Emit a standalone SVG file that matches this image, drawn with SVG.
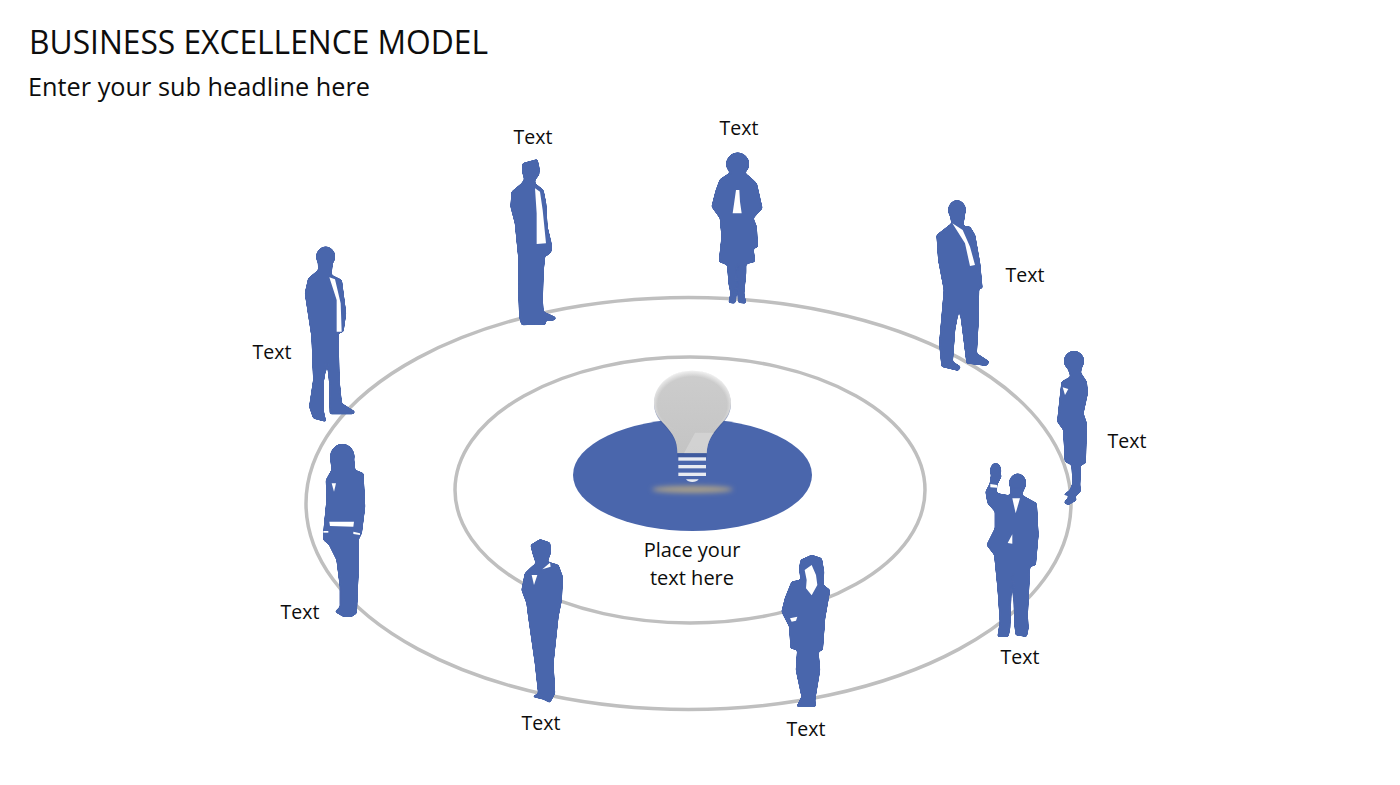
<svg xmlns="http://www.w3.org/2000/svg" width="1400" height="785" viewBox="0 0 1400 785">
<style>
text{font-family:"Open Sans","Noto Sans","Liberation Sans",sans-serif;fill:#0d0d0d}
.t{font-size:19.5px;text-anchor:middle}
.h{font-size:20px;text-anchor:middle}
.ring{fill:none;stroke:#bfbfbf;stroke-width:3.5}
.p{fill:#4a66ac;stroke:#4a66ac;stroke-width:3;stroke-linejoin:round}
.c{fill:#fff}
.s{filter:url(#goo)}
</style>
<defs>
<radialGradient id="rim" cx=".5" cy=".55" r=".56">
<stop offset="0" stop-color="#fff" stop-opacity="0"/><stop offset=".8" stop-color="#fff" stop-opacity="0"/><stop offset="1" stop-color="#fff" stop-opacity=".85"/>
</radialGradient>
<linearGradient id="glass" x1="0" y1="0" x2="0" y2="1"><stop offset="0" stop-color="#cdcdcd"/><stop offset="1" stop-color="#c4c4c4"/></linearGradient>
<filter id="blur" x="-30%" y="-150%" width="160%" height="400%"><feGaussianBlur stdDeviation="8"/></filter>
<filter id="soft" x="-10%" y="-10%" width="120%" height="120%"><feGaussianBlur stdDeviation="2"/></filter>
<filter id="goo" x="-20%" y="-20%" width="140%" height="140%">
<feGaussianBlur stdDeviation="3.5"/>
<feComponentTransfer><feFuncA type="linear" slope="7" intercept="-3"/></feComponentTransfer>
</filter>
</defs>
<rect width="1400" height="785" fill="#fff"/>
<text x="29" y="54" font-size="33" textLength="459" lengthAdjust="spacingAndGlyphs">BUSINESS EXCELLENCE MODEL</text>
<text x="28" y="96" font-size="25" textLength="342" lengthAdjust="spacingAndGlyphs">Enter your sub headline here</text>
<g id="connectors">
<ellipse class="ring" cx="688.5" cy="503.5" rx="382.5" ry="206"/>
<ellipse class="ring" cx="690" cy="490" rx="235" ry="133"/>
</g>
<g id="hub">
<ellipse cx="692.5" cy="475" rx="119.5" ry="56" fill="#4a66ac"/>
<g transform="translate(560 360) scale(.33333)">
<ellipse cx="397" cy="388" rx="122" ry="11" fill="#a89f8a" filter="url(#blur)"/>
<path d="M352,280C352,240 340,225 315,195C290,170 282,150 282,125C285,70 335,32 397,32C460,32 510,70 513,125C513,150 505,170 480,195C455,225 442,240 440,280Z" fill="#3b5290" opacity=".5" filter="url(#soft)" transform="translate(0 4)"/>
<path d="M352,280C352,240 340,225 315,195C290,170 282,150 282,125C285,70 335,32 397,32C460,32 510,70 513,125C513,150 505,170 480,195C455,225 442,240 440,280Z" fill="url(#glass)"/>
<ellipse cx="397" cy="125" rx="116" ry="94" fill="url(#rim)"/>
<path d="M405,218L462,218C450,235 442,250 440,280L372,280Z" fill="#d9d9d9" opacity=".65"/>
<rect x="352" y="280" width="88" height="12" fill="#3f5a9e"/>
<rect x="355" y="292" width="83" height="10" fill="#e8ebf2"/>
<rect x="355" y="315" width="83" height="10" fill="#e8ebf2"/>
<rect x="355" y="338" width="83" height="10" fill="#e8ebf2"/>
<path d="M378,358H416Q410,366 397,366Q384,366 378,358Z" fill="#e8ebf2"/>
</g>
<text class="h" x="692" y="557">Place your</text>
<text class="h" x="692" y="585">text here</text>
</g>
<g id="person-1">
<g transform="translate(290 240) scale(.33333)">
<g class="s">
<ellipse class="p" cx="107" cy="50" rx="28" ry="30"/>
<path class="p" d="M84,65L128,65L124,105L155,120L168,220L160,275L145,280L148,420L155,490L195,515L190,522L120,522L118,430L112,360L100,430L100,510L108,545L70,535L58,500L70,420L65,290L45,160L55,115L85,90Z"/>
</g>
<path class="c" d="M118,112L135,118L152,190L155,275L140,275L140,180Z"/>
</g>
<text class="t" x="272" y="359">Text</text>
</g>
<g id="person-2">
<g transform="translate(490 140) scale(.33333)">
<g class="s">
<path class="p" d="M98,70L142,58L148,85L147,105L135,120L135,130L160,150L168,190L172,260L184,310L184,335L170,348L165,345L160,400L158,480L160,515L197,532L195,540L165,542L168,553L95,555L88,530L85,430L85,350L75,250L62,200L65,155L95,130L103,118L97,95Z"/>
</g>
<path class="c" d="M135,145L150,155L158,210L168,310L140,312L140,220Z"/>
</g>
<text class="t" x="533" y="144">Text</text>
</g>
<g id="person-3">
<g transform="translate(490 140) scale(.33333)">
<g class="s">
<circle class="p" cx="743" cy="72" r="34"/>
<path class="p" d="M725,95L690,118L678,150L665,200L690,235L695,290L687,365L712,375L716,430L722,460L716,488L735,490L738,465L740,375L745,375L745,460L745,488L768,490L762,460L768,400L768,372L795,365L790,325L803,322L800,260L790,235L817,205L800,130L785,115L760,95Z"/>
</g>
<path class="c" d="M738,150L748,150L750,185L755,220L728,220L733,185Z"/>
</g>
<text class="t" x="739" y="135">Text</text>
</g>
<g id="person-4">
<g transform="translate(920 190) scale(.33333)">
<g class="s">
<ellipse class="p" cx="111" cy="60" rx="26" ry="29"/>
<path class="p" d="M90,75L135,75L130,100L133,110L150,110L165,135L180,220L187,295L177,295L175,400L170,490L208,515L200,527L140,520L125,400L118,350L105,420L98,515L122,530L115,542L65,530L58,460L72,300L55,210L50,135L95,100Z"/>
</g>
<path class="c" d="M97,100L128,120L150,170L165,225L150,228L135,160Z"/>
</g>
<text class="t" x="1025" y="282">Text</text>
</g>
<g id="person-5">
<g transform="translate(920 190) scale(.33333)">
<g class="s">
<circle class="p" cx="462" cy="513" r="30"/>
<path class="p" d="M442,530L486,530L482,548L500,575L503,610L490,670L500,700L497,820L482,825L480,885L482,905L465,920L470,930L445,945L432,938L450,915L430,915L450,900L458,880L455,825L435,815L430,720L412,695L420,620L425,575L452,560Z"/>
</g>
<path class="c" d="M428,592L445,597L435,615Z"/>
</g>
<text class="t" x="1127" y="448">Text</text>
</g>
<g id="person-6">
<g transform="translate(975 455) scale(.33333)">
<g class="s">
<ellipse class="p" cx="128" cy="84" rx="25" ry="28"/>
<ellipse class="p" cx="62" cy="48" rx="16" ry="24"/>
<path class="p" d="M47,65L80,62L66,90L65,115L105,122L108,100L148,100L140,120L185,145L190,240L182,330L165,335L158,480L160,520L155,545L122,540L118,500L115,350L108,420L105,520L100,545L68,545L75,500L68,400L58,300L35,270L60,220L60,170L38,145L32,110L45,85Z"/>
</g>
<path class="c" d="M112,130L135,130L122,175Z"/>
<path class="c" d="M98,264L112,238L112,266Z"/>
<path class="c" d="M46,87L66,90L66,98L46,97Z"/>
</g>
<text class="t" x="1020" y="664">Text</text>
</g>
<g id="person-7">
<g transform="translate(510 530) scale(.33333)">
<g class="s">
<path class="p" d="M872,90L905,75L935,85L942,125L940,165L960,180L945,265L938,360L925,365L930,420L915,510L917,530L860,530L875,500L858,420L862,360L842,355L838,290L815,245L825,205L845,155L872,150L868,115Z"/>
</g>
<path class="c" d="M884,120L905,105L918,135L922,165L905,196L888,175L890,150Z"/>
<path class="c" d="M840,265L862,260L858,272L845,275Z"/>
</g>
<text class="t" x="806" y="736">Text</text>
</g>
<g id="person-8">
<g transform="translate(510 530) scale(.33333)">
<g class="s">
<path class="p" d="M62,45L90,28L120,38L122,70L112,95L145,105L158,140L155,210L145,260L130,400L135,490L120,518L100,508L68,500L85,490L75,400L55,260L50,220L35,180L45,130L65,110L78,100L68,70Z"/>
</g>
<path class="c" d="M65,135L82,135L72,165Z"/>
<path class="c" d="M97,118L120,98L122,110Z"/>
</g>
<text class="t" x="541" y="730">Text</text>
</g>
<g id="person-9">
<g transform="translate(290 240) scale(.33333)">
<g class="s">
<ellipse class="p" cx="157" cy="650" rx="36" ry="38"/>
<path class="p" d="M122,660L192,660L195,690L220,700L225,800L215,880L210,890L205,900L205,1000L200,1120L185,1130L160,1130L135,1115L150,1100L150,1040L140,960L120,920L118,915L100,900L102,860L110,780L108,720L125,690Z"/>
</g>
<path class="c" d="M125,730L138,730L132,755Z"/>
<path class="c" d="M118,845L192,845L190,860L120,858Z"/>
<path class="c" d="M100,873L115,873L115,878L100,878Z"/>
<path class="c" d="M190,875L210,880L210,885L190,882Z"/>
</g>
<text class="t" x="300" y="619">Text</text>
</g>
</svg>
